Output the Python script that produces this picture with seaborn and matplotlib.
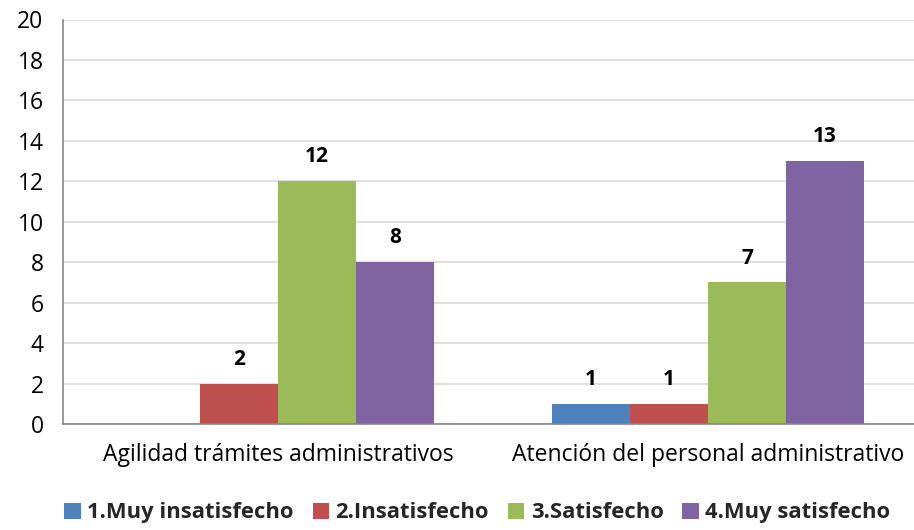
import matplotlib
matplotlib.use("Agg")
import matplotlib.pyplot as plt
import seaborn as sns
import pandas as pd

categories = ["Agilidad trámites administrativos", "Atención del personal administrativo"]
series = ["1.Muy insatisfecho", "2.Insatisfecho", "3.Satisfecho", "4.Muy satisfecho"]
values = {
    "1.Muy insatisfecho": [0, 1],
    "2.Insatisfecho": [2, 1],
    "3.Satisfecho": [12, 7],
    "4.Muy satisfecho": [8, 13],
}
colors = ["#4F81BD", "#C0504D", "#9BBB59", "#8064A2"]

rows = []
for s in series:
    for c, v in zip(categories, values[s]):
        rows.append({"cat": c, "serie": s, "val": v})
df = pd.DataFrame(rows)

sns.set_theme(style="white")
plt.rcParams["font.family"] = ["Open Sans", "DejaVu Sans"]

fig = plt.figure(figsize=(9.14, 5.30), dpi=100)
ax = fig.add_axes([63 / 914, 1 - 424 / 530, (914 - 63) / 914, (424 - 19.5) / 530])

sns.barplot(data=df, x="cat", y="val", hue="serie", hue_order=series, order=categories,
            palette=colors, width=0.726, gap=0, ax=ax, saturation=1, edgecolor="none",
            linewidth=0, legend=True)

for cont in ax.containers:
    labels = [f"{int(b.get_height())}" if b.get_height() > 0 else "" for b in cont]
    ax.bar_label(cont, labels=labels, padding=10, fontsize=15, fontweight="bold", color="black")

ax.set_ylim(0, 20)
ax.set_yticks(range(0, 21, 2))
ax.set_xlim(-0.5, -0.5 + (914 - 63) / 430)
ax.yaxis.grid(True, color="#d9d9d9", linewidth=1.2)
ax.set_axisbelow(True)
for sp in ["top", "right"]:
    ax.spines[sp].set_visible(False)
ax.spines["left"].set_color("#868686")
ax.spines["bottom"].set_color("#868686")
ax.spines["left"].set_linewidth(1.2)
ax.spines["bottom"].set_linewidth(1.2)
ax.set_xlabel("")
ax.set_ylabel("")
ax.tick_params(axis="y", labelsize=16.5, pad=14, length=0, colors="black")
ax.tick_params(axis="x", labelsize=16.5, pad=14, length=0, colors="black")

leg = ax.legend(loc="center", bbox_to_anchor=(0.487, -0.22), ncol=4,
                frameon=False, handlelength=0.75, handleheight=0.75, handletextpad=0.3,
                columnspacing=0.85, prop={"weight": "bold", "size": 15.8})

fig.savefig("out.png", dpi=100)
